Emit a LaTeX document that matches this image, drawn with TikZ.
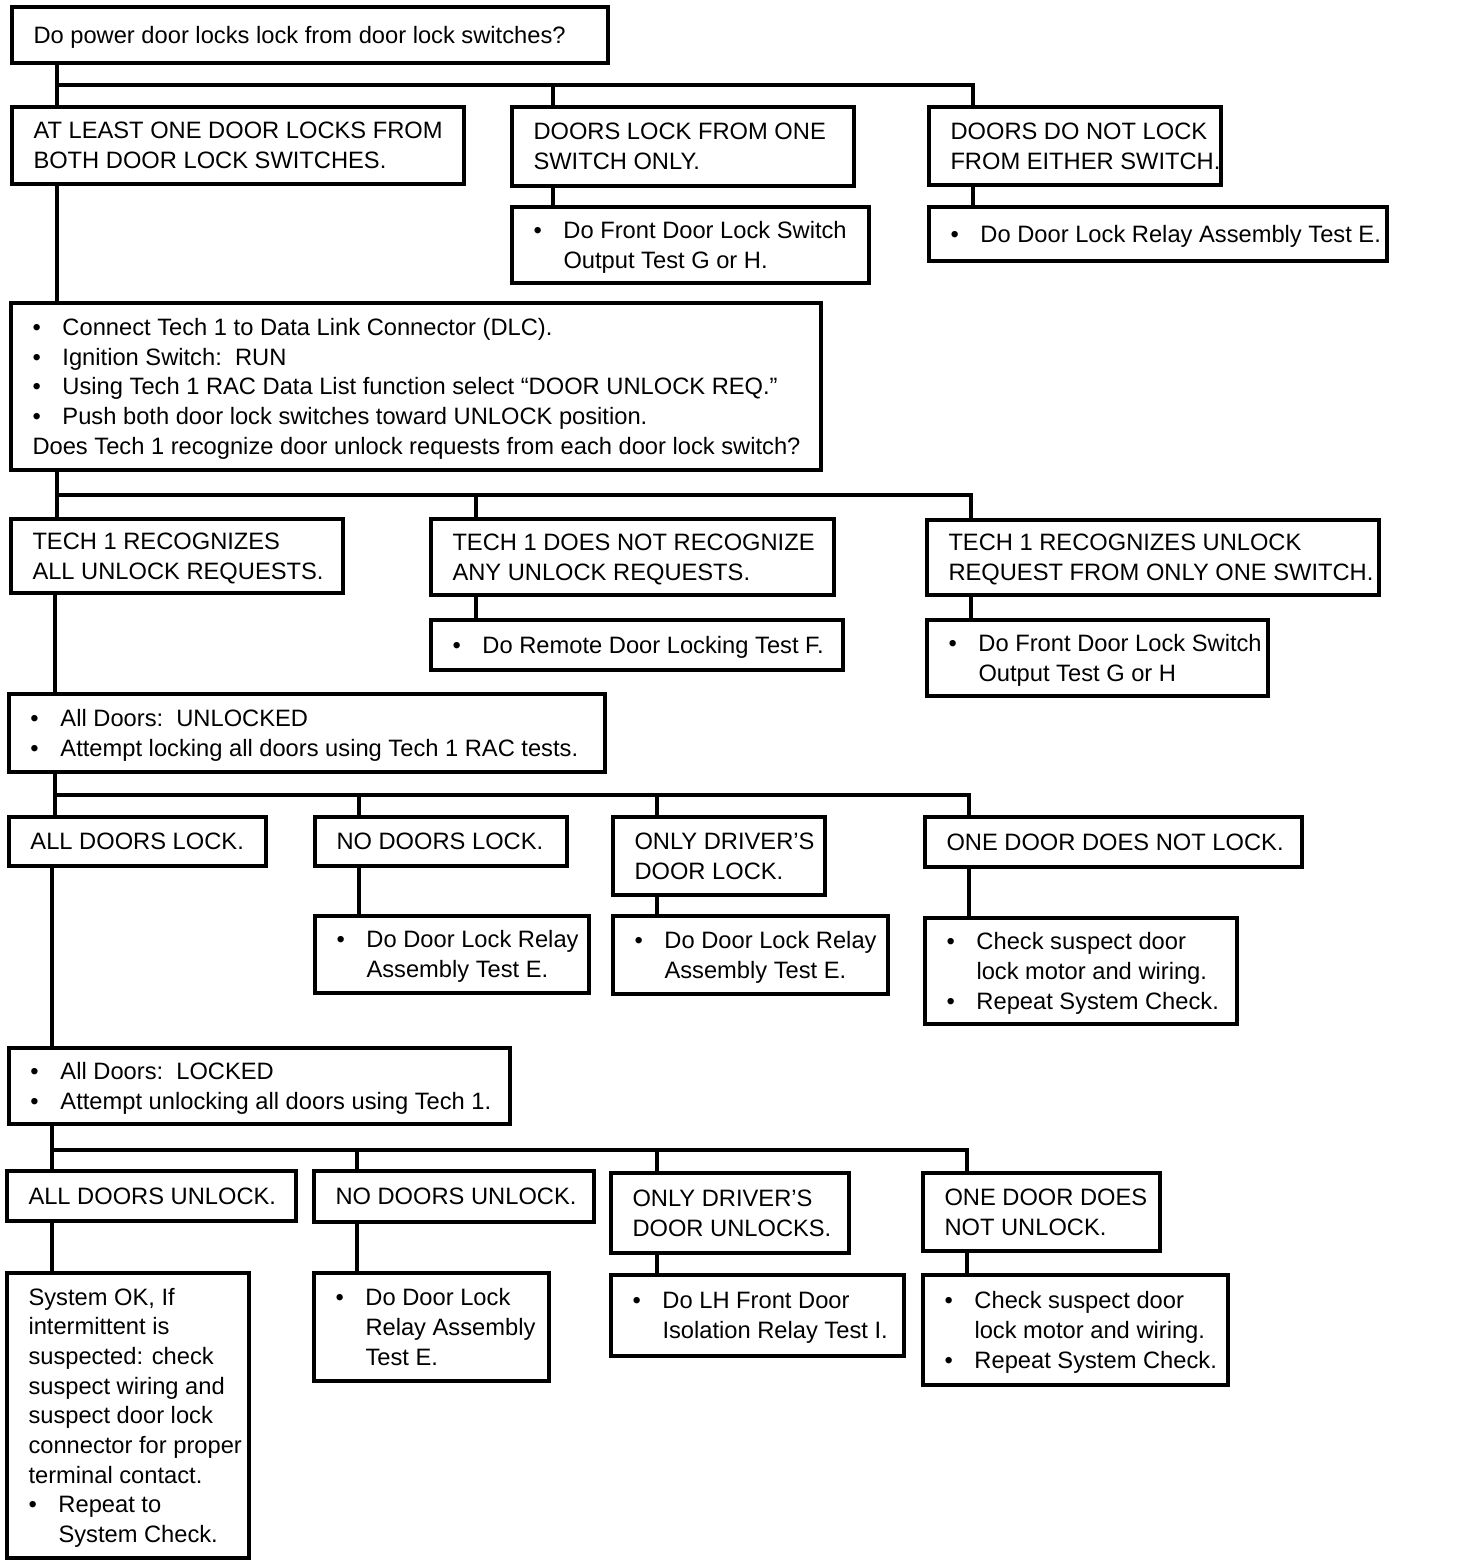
\documentclass[tikz,border=0pt]{standalone}
\usepackage{fontspec}
\setmainfont{Liberation Sans}
\usetikzlibrary{calc}
\newcommand{\bul}{\makebox[30pt][l]{\textbullet}}
\newcommand{\hind}{\makebox[30pt]{}}
\tikzset{
  boxst/.style={draw=black, line width=3.2pt, inner sep=0pt, outer sep=0pt, anchor=north west, fill=white},
  txtst/.style={inner sep=0pt, outer sep=0pt, align=left, anchor=base west, font=\fontsize{23.7}{29.7}\selectfont},
  conn/.style={draw=black, line width=3.2pt}
}
% #1 name, #2 x1, #3 y1, #4 x2, #5 y2, #6 number of lines, #7 text
\newcommand{\mybox}[7]{%
  \node[boxst, minimum width={#4-#2}, minimum height={#5-#3}] (#1) at (#2,#3) {};
  \node[txtst] (#1-t) at ($(#1.west)+(21.5,{8.3+(#6-1)*14.85})$) {#7};
}
\begin{document}
\begin{tikzpicture}[x=1pt,y=-1pt]
\fill[white] (0,0) rectangle (1472,1568);
\useasboundingbox (0,0) rectangle (1472,1568);

% ---- connectors (drawn first, boxes on top)
% row 1
\coordinate (bus1) at (57,85);
\draw[conn] (57,63) -- (57,107);
\draw[conn] (bus1) -| (973,107);
\draw[conn] (553,85) -- (553,107);
\draw[conn] (553,186) -- (553,207);
\draw[conn] (973,185) -- (973,207);
\draw[conn] (57,184) -- (57,303);
% row 2
\draw[conn] (57,470) -- (57,519);
\draw[conn] (57,495) -| (971,520);
\draw[conn] (476,495) -- (476,519);
\draw[conn] (476,595) -- (476,620);
\draw[conn] (971,595) -- (971,620);
\draw[conn] (55,593) -- (55,694);
% row 3
\draw[conn] (55,772) -- (55,817);
\draw[conn] (55,795) -| (969,817);
\draw[conn] (359,795) -- (359,817);
\draw[conn] (657,795) -- (657,817);
\draw[conn] (359,866) -- (359,916);
\draw[conn] (657,895) -- (657,916);
\draw[conn] (969,867) -- (969,918);
\draw[conn] (52,866) -- (52,1048);
% row 4
\draw[conn] (52,1124) -- (52,1171);
\draw[conn] (52,1150) -| (967,1173);
\draw[conn] (357,1150) -- (357,1171);
\draw[conn] (657,1150) -- (657,1173);
\draw[conn] (52,1221) -- (52,1273);
\draw[conn] (357,1222) -- (357,1273);
\draw[conn] (657,1253) -- (657,1275);
\draw[conn] (967,1251) -- (967,1275);

% ---- boxes
\mybox{b1}{12}{7}{608}{63}{1}{Do power door locks lock from door lock switches?}
\mybox{b2a}{12}{107}{464}{184}{2}{AT LEAST ONE DOOR LOCKS FROM\\BOTH DOOR LOCK SWITCHES.}
\mybox{b2b}{512}{107}{854}{186}{2}{DOORS LOCK FROM ONE\\SWITCH ONLY.}
\mybox{b2c}{929}{107}{1221}{185}{2}{DOORS DO NOT LOCK\\FROM EITHER SWITCH.}
\mybox{b2bs}{512}{207}{869}{283}{2}{\bul Do Front Door Lock Switch\\\hind Output Test G or H.}
\mybox{b2cs}{929}{207}{1387}{261}{1}{\bul Do Door Lock Relay Assembly Test E.}
\mybox{b3}{11}{303}{821}{470}{5}{\bul Connect Tech 1 to Data Link Connector (DLC).\\\bul Ignition Switch:\ \ RUN\\\bul Using Tech 1 RAC Data List function select “DOOR UNLOCK REQ.”\\\bul Push both door lock switches toward UNLOCK position.\\Does Tech 1 recognize door unlock requests from each door lock switch?}
\mybox{b4a}{11}{519}{343}{593}{2}{TECH 1 RECOGNIZES\\ALL UNLOCK REQUESTS.}
\mybox{b4b}{431}{519}{834}{595}{2}{TECH 1 DOES NOT RECOGNIZE\\ANY UNLOCK REQUESTS.}
\mybox{b4c}{927}{520}{1379}{595}{2}{TECH 1 RECOGNIZES UNLOCK\\REQUEST FROM ONLY ONE SWITCH.}
\mybox{b4bs}{431}{620}{843}{670}{1}{\bul Do Remote Door Locking Test F.}
\mybox{b4cs}{927}{620}{1268}{696}{2}{\bul Do Front Door Lock Switch\\\hind Output Test G or H}
\mybox{b5}{9}{694}{605}{772}{2}{\bul All Doors:\ \ UNLOCKED\\\bul Attempt locking all doors using Tech 1 RAC tests.}
\mybox{b6a}{9}{817}{266}{866}{1}{ALL DOORS LOCK.}
\mybox{b6b}{315}{817}{567}{866}{1}{NO DOORS LOCK.}
\mybox{b6c}{613}{817}{825}{895}{2}{ONLY DRIVER’S\\DOOR LOCK.}
\mybox{b6d}{925}{817}{1302}{867}{1}{ONE DOOR DOES NOT LOCK.}
\mybox{b6bs}{315}{916}{589}{993}{2}{\bul Do Door Lock Relay\\\hind Assembly Test E.}
\mybox{b6cs}{613}{916}{888}{994}{2}{\bul Do Door Lock Relay\\\hind Assembly Test E.}
\mybox{b6ds}{925}{918}{1237}{1024}{3}{\bul Check suspect door\\\hind lock motor and wiring.\\\bul Repeat System Check.}
\mybox{b7}{9}{1048}{510}{1124}{2}{\bul All Doors:\ \ LOCKED\\\bul Attempt unlocking all doors using Tech 1.}
\mybox{b8a}{7}{1171}{296}{1221}{1}{ALL DOORS UNLOCK.}
\mybox{b8b}{314}{1171}{594}{1222}{1}{NO DOORS UNLOCK.}
\mybox{b8c}{611}{1173}{849}{1253}{2}{ONLY DRIVER’S\\DOOR UNLOCKS.}
\mybox{b8d}{923}{1173}{1160}{1251}{2}{ONE DOOR DOES\\NOT UNLOCK.}
\mybox{b8as}{7}{1273}{249}{1558}{9}{System OK, If\\intermittent is\\suspected: check\\suspect wiring and\\suspect door lock\\connector for proper\\terminal contact.\\\bul Repeat to\\\hind System Check.}
\mybox{b8bs}{314}{1273}{549}{1381}{3}{\bul Do Door Lock\\\hind Relay Assembly\\\hind Test E.}
\mybox{b8cs}{611}{1275}{904}{1356}{2}{\bul Do LH Front Door\\\hind Isolation Relay Test I.}
\mybox{b8ds}{923}{1275}{1228}{1385}{3}{\bul Check suspect door\\\hind lock motor and wiring.\\\bul Repeat System Check.}
\end{tikzpicture}
\end{document}
